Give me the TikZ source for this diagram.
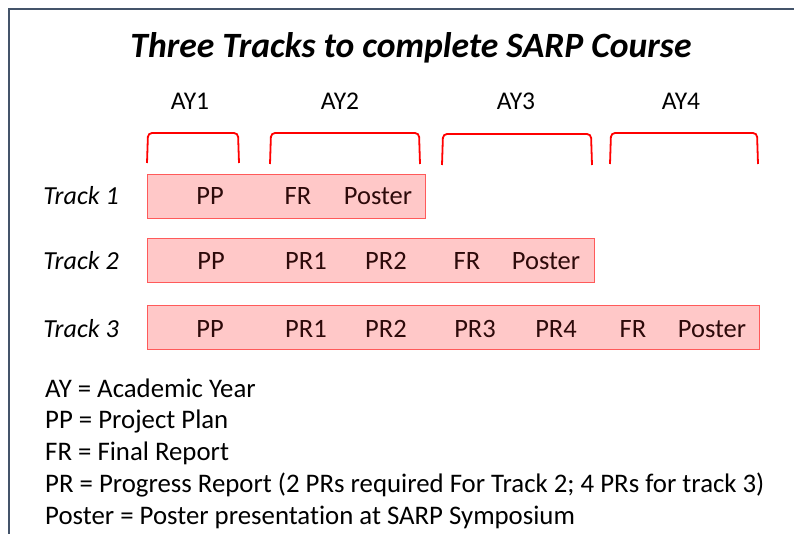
\documentclass[tikz,border=0pt]{standalone}
\usepackage{fontspec}
\setmainfont{Carlito}[Ligatures=NoCommon]
\begin{document}
\begin{tikzpicture}[x=1bp,y=-1bp,
  frameline/.style={draw={rgb,255:red,68;green,84;blue,106},line width=1.5bp},
  titletext/.style={font=\fontsize{35.6bp}{40bp}\selectfont\bfseries\itshape,inner sep=0,anchor=base},
  aytext/.style={font=\fontsize{25.5bp}{28bp}\selectfont,inner sep=0,anchor=base},
  tracklabel/.style={font=\fontsize{26bp}{28bp}\selectfont\itshape,inner sep=0,anchor=base},
  trackbox/.style={draw={rgb,255:red,255;green,90;blue,90},line width=0.8bp,fill={rgb,255:red,255;green,200;blue,200},minimum height=44bp,inner sep=0,anchor=north west},
  itemtext/.style={font=\fontsize{26.5bp}{28bp}\selectfont,inner sep=0,anchor=base,text={rgb,255:red,45;green,10;blue,10}},
  legendtext/.style={font=\fontsize{26.8bp}{30bp}\selectfont,inner sep=0,anchor=base west},
  bracketline/.style={draw=red,line width=1.8bp,rounded corners=4bp}
]
\useasboundingbox (0,0) rectangle (794,534);
\fill[white] (0,0) rectangle (794,534);
\draw[frameline] (9,540) -- (9,9) -- (800,9);

\node[titletext] (title) at (411,58) {Three Tracks to complete SARP Course};

\node[aytext] (ay1) at (190,110) {AY1};
\node[aytext] (ay2) at (340,110) {AY2};
\node[aytext] (ay3) at (516,110) {AY3};
\node[aytext] (ay4) at (681,110) {AY4};

\draw[bracketline] (147,163) -- (148,133) -- (238,133) -- (239,163);
\draw[bracketline] (270,164) -- (271,133) -- (419,133) -- (420,164);
\draw[bracketline] (442,165) -- (443,134) -- (591,134) -- (592,165);
\draw[bracketline] (610,164) -- (611,133) -- (757,133) -- (758,164);

\node[trackbox,minimum width=278bp] (t1) at (147,174) {};
\node[trackbox,minimum width=447bp] (t2) at (147,238) {};
\node[trackbox,minimum width=612bp] (t3) at (147,305) {};

\node[tracklabel] (l1) at (81,205) {Track 1};
\node[tracklabel] (l2) at (81,270) {Track 2};
\node[tracklabel] (l3) at (81,337) {Track 3};

\node[itemtext] (t1pp) at (210,205) {PP};
\node[itemtext] (t1fr) at (298,205) {FR};
\node[itemtext] (t1po) at (378,205) {Poster};

\node[itemtext] (t2pp) at (211,270) {PP};
\node[itemtext] (t2pr1) at (306,270) {PR1};
\node[itemtext] (t2pr2) at (386,270) {PR2};
\node[itemtext] (t2fr) at (467,270) {FR};
\node[itemtext] (t2po) at (546,270) {Poster};

\node[itemtext] (t3pp) at (210,337) {PP};
\node[itemtext] (t3pr1) at (306,337) {PR1};
\node[itemtext] (t3pr2) at (386,337) {PR2};
\node[itemtext] (t3pr3) at (475,337) {PR3};
\node[itemtext] (t3pr4) at (556,337) {PR4};
\node[itemtext] (t3fr) at (633,337) {FR};
\node[itemtext] (t3po) at (712,337) {Poster};

\node[legendtext] (lg1) at (45,397) {AY = Academic Year};
\node[legendtext] (lg2) at (45,428.5) {PP = Project Plan};
\node[legendtext] (lg3) at (45,460) {FR = Final Report};
\node[legendtext] (lg4) at (45,492) {PR = Progress Report (2 PRs required For Track 2; 4 PRs for track 3)};
\node[legendtext] (lg5) at (45,524) {Poster = Poster presentation at SARP Symposium};
\end{tikzpicture}
\end{document}
